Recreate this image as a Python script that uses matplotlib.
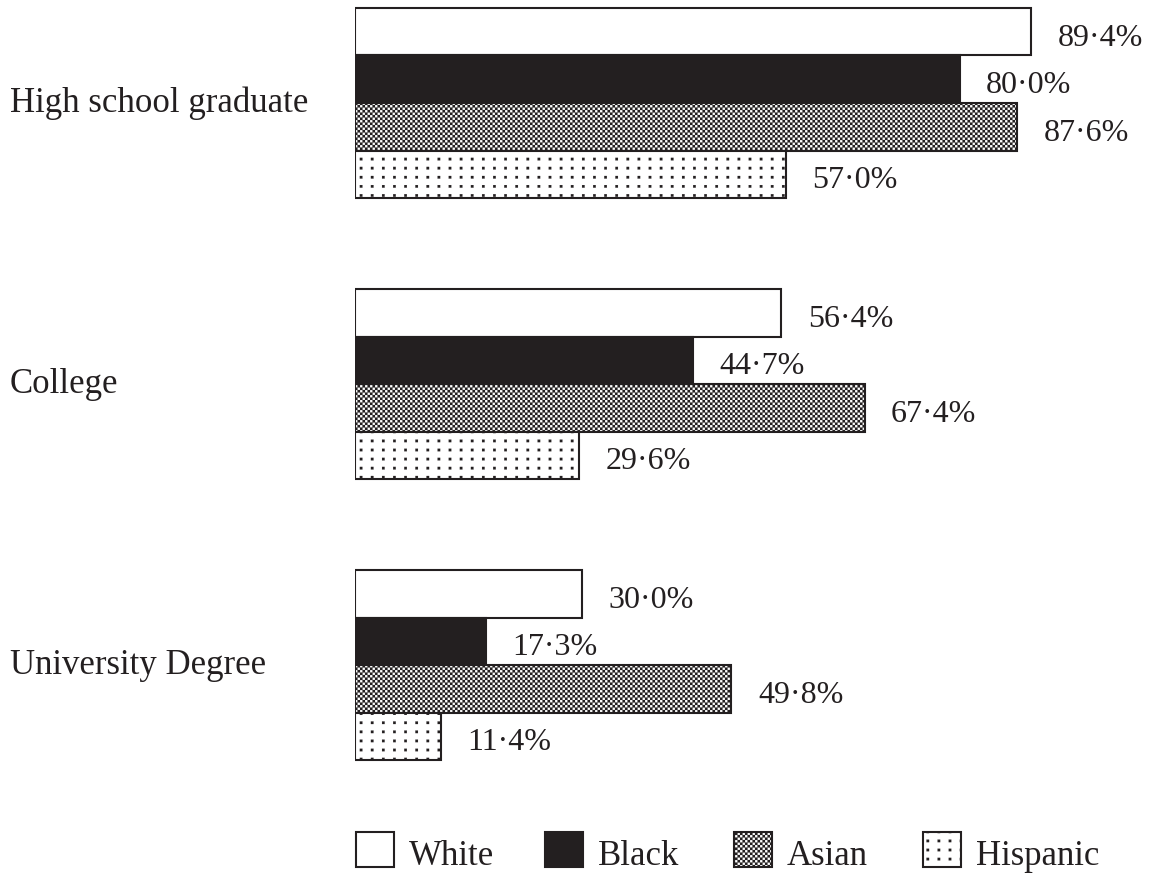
import numpy as np
import matplotlib
matplotlib.use("Agg")
import matplotlib.pyplot as plt
from matplotlib import hatch as mhatch
from matplotlib.path import Path
from matplotlib.patches import Rectangle

categories = ["High school graduate", "College", "University Degree"]
groups = ["White", "Black", "Asian", "Hispanic"]
white = [89.4, 56.4, 30.0]
black = [80.0, 44.7, 17.3]
asian = [87.6, 67.4, 49.8]
hispanic = [57.0, 29.6, 11.4]

INK = "#231f20"
CHECKER = "xxxx"
DOTS = "...."

plt.rcParams["font.family"] = ["Liberation Serif", "DejaVu Serif"]
plt.rcParams["hatch.linewidth"] = 0.1


# Print-style screen textures (one hatch tile = 1 inch)
def checker_path(cells=40):
    s = 1.0 / cells
    verts, codes = [], []
    for i in range(cells):
        for j in range(cells):
            if (i + j) % 2:
                continue
            x0, y0 = i * s, j * s
            verts += [(x0, y0), (x0 + s, y0), (x0 + s, y0 + s), (x0, y0 + s), (x0, y0)]
            codes += [Path.MOVETO, Path.LINETO, Path.LINETO, Path.LINETO, Path.CLOSEPOLY]
    return Path(verts, codes)


def dot_path(cols=9, rows=11, size=0.026):
    h = size / 2
    verts, codes = [], []
    for i in range(cols):
        for j in range(rows):
            cx, cy = (i + 0.5) / cols, (j + 0.5) / rows
            verts += [(cx - h, cy - h), (cx + h, cy - h), (cx + h, cy + h),
                      (cx - h, cy + h), (cx - h, cy - h)]
            codes += [Path.MOVETO, Path.LINETO, Path.LINETO, Path.LINETO, Path.CLOSEPOLY]
    return Path(verts, codes)


_textures = {CHECKER: checker_path(), DOTS: dot_path()}
_base_get_path = mhatch.get_path


def _textured_get_path(pattern, density=6):
    if pattern in _textures:
        return _textures[pattern]
    return _base_get_path(pattern, density)


mhatch.get_path = _textured_get_path

W, H = 1152, 875
fig = plt.figure(figsize=(W / 100, H / 100), dpi=100)
ax = fig.add_axes([355 / W, 75 / H, 756 / W, 800 / H])
ax.set_xlim(0, 100)
ax.set_ylim(2.480, -0.3665)
ax.axis("off")

pos = np.arange(len(categories))
bar_h = 47.5 / 281
series = [white, black, asian, hispanic]
styles = [
    dict(facecolor="white", hatch=None),
    dict(facecolor=INK, hatch=None),
    dict(facecolor="white", hatch=CHECKER),
    dict(facecolor="white", hatch=DOTS),
]


def pct(v):
    return f"{v:.1f}%".replace(".", "\u00b7")


for k, (vals, st) in enumerate(zip(series, styles)):
    y = pos + (k - 1.5) * bar_h
    ax.barh(y, vals, height=bar_h, edgecolor=INK, linewidth=1.5, **st)
    for yy, v in zip(y, vals):
        ax.annotate(pct(v), xy=(v, yy), xytext=(19, -10), textcoords="offset points",
                    ha="left", va="baseline", fontsize=23, color=INK)

for p, cat in zip(pos, categories):
    ax.annotate(cat, xy=(10 / W, p), xycoords=("figure fraction", "data"),
                xytext=(0, -6.5), textcoords="offset points",
                ha="left", va="baseline", fontsize=25, color=INK)

# Legend row along the bottom edge
for i, (name, st) in enumerate(zip(groups, styles)):
    x0 = 355.5 + i * 189.3
    fig.add_artist(Rectangle((x0 / W, 8 / H), 38 / W, 35 / H, transform=fig.transFigure,
                             edgecolor=INK, linewidth=1.5, **st))
    fig.text((x0 + 53) / W, 10 / H, name, ha="left", va="baseline", fontsize=25, color=INK)

fig.savefig("out.png", dpi=100)
